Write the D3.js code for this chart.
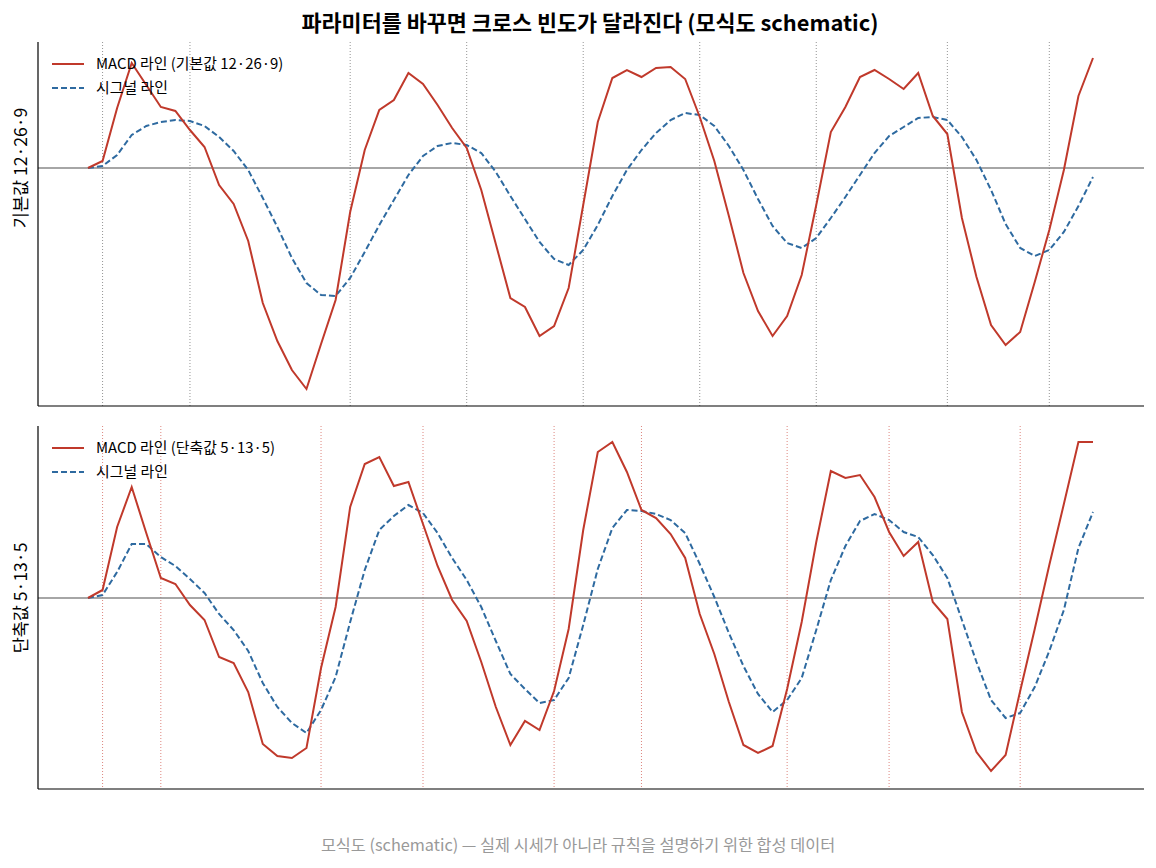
<!DOCTYPE html><html><head><meta charset="utf-8"><script src="https://cdn.jsdelivr.net/npm/d3@7"></script>
<style>body{margin:0;background:#fff}text{font-family:"Noto Sans CJK KR","Noto Sans",sans-serif}</style></head><body><svg id="c" width="1156" height="868"></svg><script>
const title="파라미터를 바꾸면 크로스 빈도가 달라진다 (모식도 schematic)";
const footer="모식도 (schematic) — 실제 시세가 아니라 규칙을 설명하기 위한 합성 데이터";
const topMacd=[0,7,60,105,83,61,57,38,21,-17,-36,-73,-135,-173,-202,-221,-176,-132,-44,18,58,68,95,84,63,40,20,-22,-76,-130,-139,-168,-158,-120,-37,46,90,98,91,100,101,89,51,7,-48,-105,-143,-168,-148,-107,-37,36,61,91,98,89,79,95,52,34,-50,-109,-157,-177,-164,-114,-62,-2,72,110];
const topSignal=[0,2,13,33,42,46,48,47,42,31,17,-2,-30,-59,-90,-115,-127,-128,-110,-84,-57,-32,-7,12,22,25,23,15,-4,-28,-51,-74,-91,-97,-82,-57,-28,-2,18,35,48,55,53,42,22,-2,-31,-58,-75,-80,-70,-50,-29,-7,15,32,41,50,51,48,31,8,-22,-56,-80,-88,-82,-64,-38,-9];
const botMacd=[0,8,71,111,65,20,14,-7,-22,-59,-65,-94,-146,-158,-160,-150,-70,-9,91,134,141,112,116,74,32,-2,-23,-64,-109,-147,-123,-132,-93,-31,68,146,156,126,88,80,64,40,-16,-56,-104,-147,-155,-148,-91,-24,56,127,120,123,101,66,42,56,-4,-21,-114,-154,-173,-157,-93,-31,33,94,156,156];
const botSignal=[0,3,26,54,54,41,32,19,5,-16,-32,-53,-85,-109,-125,-135,-112,-79,-24,28,68,82,93,85,65,40,18,-9,-43,-76,-91,-105,-102,-80,-27,29,70,88,87,84,78,65,34,1,-35,-68,-96,-114,-102,-80,-32,18,52,77,84,78,66,61,43,20,-22,-64,-102,-120,-115,-89,-53,-12,50,86];
const topCross=[1,7,18,26,34,42,50,59,66];
const botCross=[1,5,16,23,32,38,48,55,64];
const panels=[
 {macd:topMacd,sig:topSignal,cross:topCross,y0:42,y1:406,dom:[-238,126],ylab:"기본값 12·26·9",l1:"MACD 라인 (기본값 12·26·9)",cc:"#888"},
 {macd:botMacd,sig:botSignal,cross:botCross,y0:426,y1:789,dom:[-191,172],ylab:"단축값 5·13·5",l1:"MACD 라인 (단축값 5·13·5)",cc:"#d9776f"}];
const svg=d3.select("#c");
const L=38,R=1144;
const x=d3.scaleLinear().domain([0,69]).range([88,1093]);
svg.append("text").attr("x",590).attr("y",31).attr("text-anchor","middle").attr("font-size",21.8).attr("font-weight","bold").text(title);
svg.append("text").attr("x",578).attr("y",851).attr("text-anchor","middle").attr("font-size",16.3).attr("fill","#999").text(footer);
panels.forEach(p=>{
 const y=d3.scaleLinear().domain(p.dom).range([p.y1,p.y0]);
 const g=svg.append("g");
 p.cross.forEach(i=>g.append("line").attr("x1",x(i)).attr("x2",x(i)).attr("y1",p.y0).attr("y2",p.y1).attr("stroke",p.cc).attr("stroke-width",0.9).attr("stroke-dasharray","1,2"));
 g.append("line").attr("x1",L).attr("x2",R).attr("y1",y(0)).attr("y2",y(0)).attr("stroke","#888").attr("stroke-width",1.3);
 const ln=d3.line().x((d,i)=>x(i)).y(d=>y(d));
 g.append("path").attr("d",ln(p.sig)).attr("fill","none").attr("stroke","#2e6aa0").attr("stroke-width",2).attr("stroke-dasharray","6,3");
 g.append("path").attr("d",ln(p.macd)).attr("fill","none").attr("stroke","#c0392b").attr("stroke-width",2);
 g.append("line").attr("x1",L).attr("x2",L).attr("y1",p.y0).attr("y2",p.y1).attr("stroke","#000").attr("stroke-width",1.2);
 g.append("line").attr("x1",L).attr("x2",R).attr("y1",p.y1).attr("y2",p.y1).attr("stroke","#000").attr("stroke-width",1.2);
 g.append("text").attr("transform",`translate(27,${y(0)}) rotate(-90)`).attr("text-anchor","middle").attr("font-size",17.5).text(p.ylab);
 const ly=p.y0+22;
 g.append("line").attr("x1",52).attr("x2",84).attr("y1",ly).attr("y2",ly).attr("stroke","#c0392b").attr("stroke-width",2);
 g.append("text").attr("x",96).attr("y",ly+5).attr("font-size",14.9).text(p.l1);
 g.append("line").attr("x1",52).attr("x2",84).attr("y1",ly+24).attr("y2",ly+24).attr("stroke","#2e6aa0").attr("stroke-width",2).attr("stroke-dasharray","6,3");
 g.append("text").attr("x",96).attr("y",ly+29).attr("font-size",14.9).text("시그널 라인");
});
</script></body></html>
